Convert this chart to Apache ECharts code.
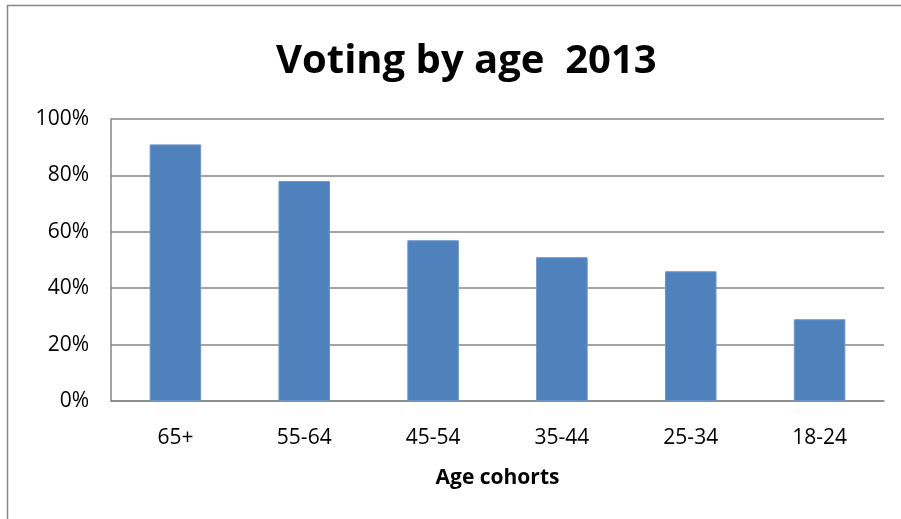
<!DOCTYPE html>
<html><head><meta charset="utf-8">
<script src="https://cdn.jsdelivr.net/npm/echarts@6/dist/echarts.min.js"></script>
<style>html,body{margin:0;padding:0;background:#fff}#c{width:901px;height:519px}</style>
</head><body><div id="c"></div>
<script>
const categories = ['65+', '55-64', '45-54', '35-44', '25-34', '18-24'];
const values = [0.91, 0.78, 0.57, 0.51, 0.46, 0.29];
const yTicks = [0, 0.2, 0.4, 0.6, 0.8, 1.0];

const chart = echarts.init(document.getElementById('c'));
const font = '"Open Sans", "Noto Sans", sans-serif';
chart.setOption({
  animation: false,
  graphic: [{
    type: 'rect', shape: {x: 7.5, y: 5.5, width: 900, height: 520},
    style: {fill: 'none', stroke: '#868686', lineWidth: 1.5}, z: -1
  }],
  title: {
    text: 'Voting by age  2013', left: 271, top: 37,
    textStyle: {fontFamily: font, fontWeight: 'bold', fontSize: 40, color: '#000'}
  },
  grid: {left: 111, right: 17, top: 119, bottom: 118},
  xAxis: {
    type: 'category', data: categories,
    axisLine: {lineStyle: {color: '#868686', width: 1.5}},
    axisTick: {show: false},
    axisLabel: {fontFamily: font, fontSize: 21, color: '#000', margin: 27},
    name: 'Age cohorts', nameLocation: 'middle', nameGap: 67,
    nameTextStyle: {fontFamily: font, fontWeight: 'bold', fontSize: 21, color: '#000'}
  },
  yAxis: {
    type: 'value', min: 0, max: 1, interval: 0.2,
    axisLine: {show: true, lineStyle: {color: '#868686', width: 1.5}},
    axisTick: {show: false},
    splitLine: {lineStyle: {color: '#868686', width: 1.5}},
    axisLabel: {fontFamily: font, fontSize: 21, color: '#000', margin: 22,
      formatter: v => Math.round(v * 100) + '%'}
  },
  series: [{
    type: 'bar', data: values, barWidth: '40%',
    itemStyle: {color: '#4F81BD', borderColor: '#6d95c8', borderWidth: 1}
  }]
});
</script></body></html>
